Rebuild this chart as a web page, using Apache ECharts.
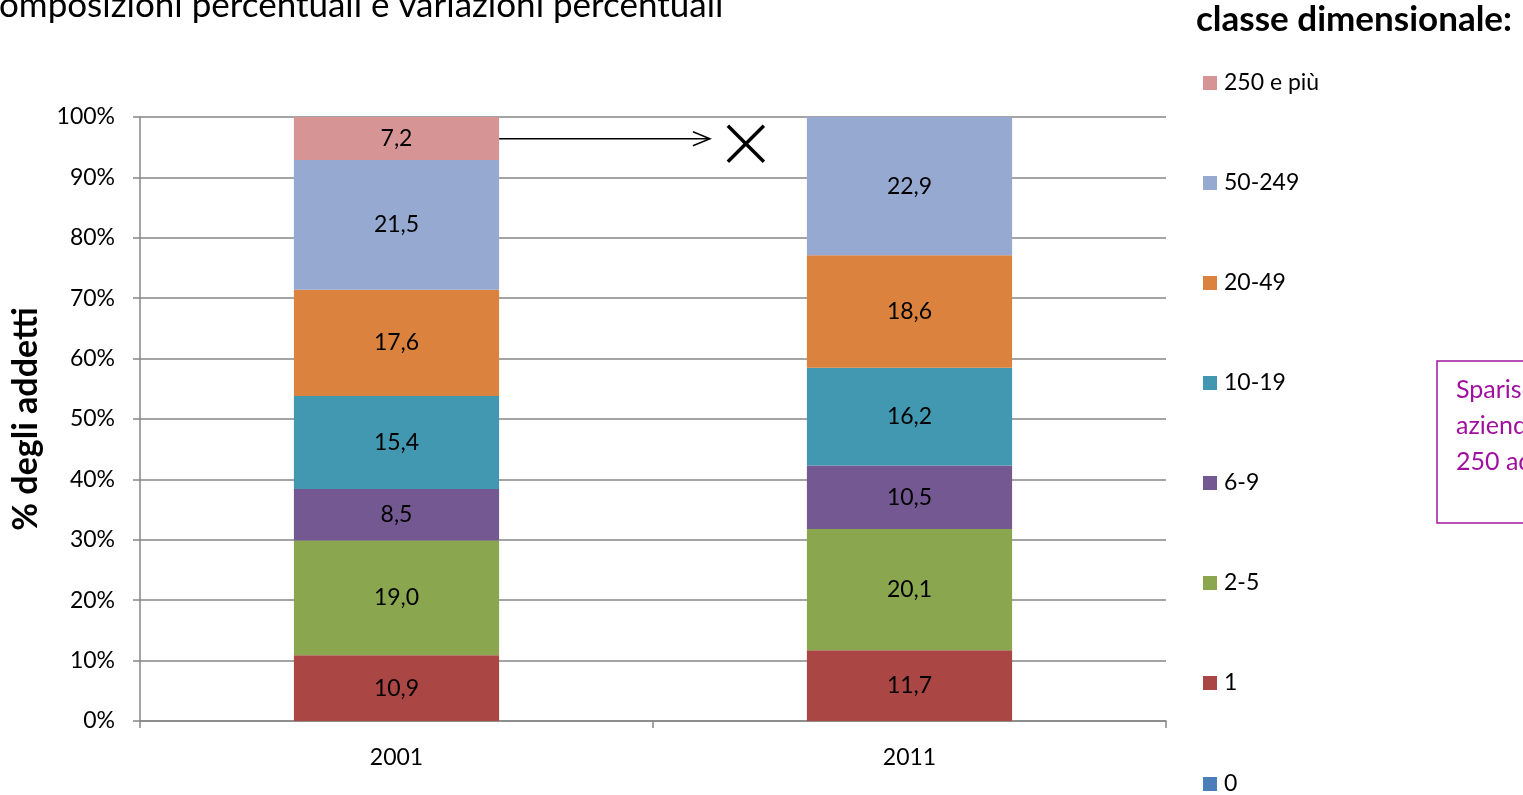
<!DOCTYPE html>
<html>
<head>
<meta charset="utf-8">
<script src="https://cdn.jsdelivr.net/npm/echarts@6/dist/echarts.min.js"></script>
<style>
  html, body { margin: 0; padding: 0; background: #fff; }
  #chart { width: 1523px; height: 795px; }
</style>
</head>
<body>
<div id="chart"></div>
<script>
// anni e classi
const years = ['2001', '2011'];
const classes = ['0', '1', '2-5', '6-9', '10-19', '20-49', '50-249', '250 e più'];
const colors = ['#4a7ebb', '#aa4644', '#8aa74f', '#735892', '#4298b0', '#db833e', '#95a9d1', '#d69594'];

// % degli addetti per classe (stesso ordine di classes)
const v2001 = [0, 10.9, 19.0, 8.5, 15.4, 17.6, 21.5, 7.2];
const v2011 = [0, 11.7, 20.1, 10.5, 16.2, 18.6, 22.9, 0];

const yTicks = [0, 10, 20, 30, 40, 50, 60, 70, 80, 90, 100];

const font = 'Lato, "Open Sans", sans-serif';

const chart = echarts.init(document.getElementById('chart'));

const series = classes.map((name, i) => ({
  name: name,
  type: 'bar',
  stack: 'tot',
  barWidth: '40%',
  itemStyle: { color: colors[i] },
  label: {
    show: true,
    position: 'inside',
    color: '#000',
    fontSize: 23,
    fontFamily: font,
    formatter: p => p.value > 0 ? p.value.toFixed(1).replace('.', ',') : ''
  },
  data: [v2001[i], v2011[i]]
}));

const legendBase = {
  orient: 'vertical',
  left: 1203,
  padding: 0,
  itemWidth: 14,
  itemHeight: 14,
  itemGap: 76,
  icon: 'rect',
  textStyle: { fontSize: 23, fontFamily: font, color: '#000', lineHeight: 24, padding: [0, 0, 0, 2] }
};

const option = {
  animation: false,
  grid: { left: 140, right: 357, top: 117, bottom: 74 },
  legend: [
    Object.assign({}, legendBase, { top: 71, data: classes.slice(1).reverse() }),
    Object.assign({}, legendBase, { top: 772, data: [classes[0]] })
  ],
  xAxis: {
    type: 'category',
    data: years,
    axisLine: { lineStyle: { color: '#868686', width: 1.5 } },
    axisTick: { show: true, length: 7, lineStyle: { color: '#868686', width: 1.5 } },
    axisLabel: { fontSize: 23, fontFamily: font, color: '#000', margin: 25 }
  },
  yAxis: {
    type: 'value',
    min: 0,
    max: 100,
    interval: 10,
    name: '% degli addetti',
    nameLocation: 'middle',
    nameGap: 97,
    nameTextStyle: { fontSize: 34, fontWeight: 'bold', fontFamily: font, color: '#000' },
    axisLine: { show: true, lineStyle: { color: '#868686', width: 1.5 } },
    axisTick: { show: true, length: 7, lineStyle: { color: '#868686', width: 1.5 } },
    splitLine: { lineStyle: { color: '#868686', width: 1.5 } },
    axisLabel: {
      fontSize: 23, fontFamily: font, color: '#000', margin: 25,
      formatter: v => yTicks.includes(v) ? v + '%' : ''
    }
  },
  series: series
};
chart.setOption(option);

// freccia e croce: posizionate dal segmento "250 e più" del 2001
const x01 = chart.convertToPixel({ xAxisIndex: 0 }, '2001');
const catW = chart.convertToPixel({ xAxisIndex: 0 }, '2011') - x01;
const yArrow = chart.convertToPixel({ yAxisIndex: 0 }, 100 - v2001[7] / 2);
const xStart = x01 + catW * 0.2;
const xEnd = x01 + catW * 0.611;
const xc = x01 + catW * 0.681;
const yc = yArrow + 5;

chart.setOption({
  graphic: [
    {
      type: 'text', left: -24, top: -12,
      style: { text: 'Composizioni percentuali e variazioni percentuali', fontSize: 35, fontFamily: font, fill: '#000' }
    },
    {
      type: 'text', left: 1196, top: 2,
      style: { text: 'classe dimensionale:', fontSize: 35, fontWeight: 'bold', fontFamily: font, fill: '#000' }
    },
    {
      type: 'line',
      shape: { x1: xStart, y1: yArrow, x2: xEnd, y2: yArrow },
      style: { stroke: '#000', lineWidth: 1.5 }
    },
    {
      type: 'polyline',
      shape: { points: [[xEnd - 17, yArrow - 7], [xEnd, yArrow], [xEnd - 17, yArrow + 7]] },
      style: { stroke: '#000', lineWidth: 1.5, fill: null }
    },
    {
      type: 'line',
      shape: { x1: xc - 18, y1: yc - 18, x2: xc + 18, y2: yc + 18 },
      style: { stroke: '#000', lineWidth: 3.5 }
    },
    {
      type: 'line',
      shape: { x1: xc + 18, y1: yc - 18, x2: xc - 18, y2: yc + 18 },
      style: { stroke: '#000', lineWidth: 3.5 }
    },
    {
      type: 'rect',
      shape: { x: 1437, y: 361, width: 200, height: 162 },
      style: { stroke: '#a0199f', lineWidth: 1.5, fill: '#fff' }
    },
    {
      type: 'text', left: 1456, top: 372,
      style: { text: 'Sparisce la\nazienda con\n250 addetti', fontSize: 25, lineHeight: 36, fontFamily: font, fill: '#a0109f' }
    }
  ]
});
</script>
</body>
</html>
